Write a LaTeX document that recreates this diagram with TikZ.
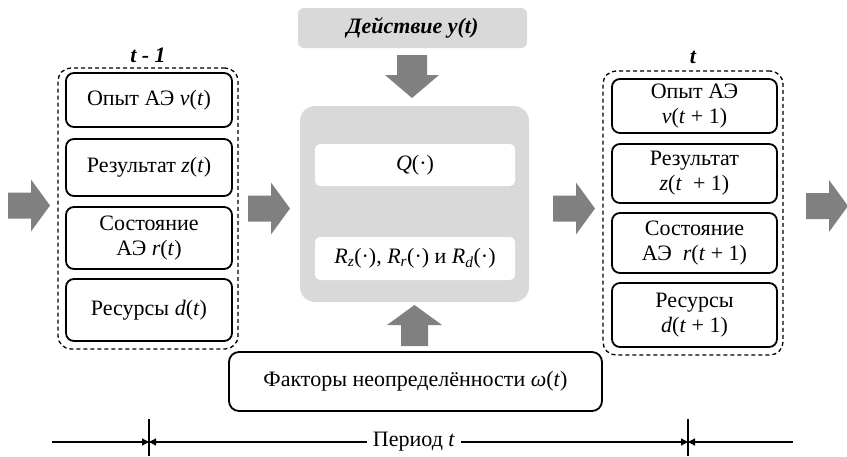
\documentclass[tikz,border=0pt]{standalone}
\usepackage{fontspec}
\setmainfont{Liberation Serif}
\usetikzlibrary{arrows.meta}
\definecolor{arrgray}{HTML}{808080}
\definecolor{panelgray}{HTML}{D9D9D9}
\begin{document}
\begin{tikzpicture}[x=1pt,y=-1pt,
  txt/.style={font=\fontsize{22}{25}\selectfont,align=center},
  box/.style={txt,draw,line width=1.8pt,rounded corners=8pt,inner sep=0pt},
  group/.style={draw,line width=1.3pt,rounded corners=13pt,dash pattern=on 4pt off 3pt,inner sep=0pt},
  dimline/.style={line width=1.3pt},
  fatR/.pic={\fill[arrgray] (0,-13) -- (23,-13) -- (23,-26) -- (42,0) -- (23,26) -- (23,13) -- (0,13) -- cycle;},
  fatD/.pic={\fill[arrgray] (-15,0) -- (-15,20) -- (-27,20) -- (0,43) -- (27,20) -- (15,20) -- (15,0) -- cycle;},
  fatU/.pic={\fill[arrgray] (-13.5,0) -- (-13.5,-21) -- (-27.5,-21) -- (0,-41) -- (27.5,-21) -- (13.5,-21) -- (13.5,0) -- cycle;}]
\useasboundingbox (0,0) rectangle (847,456);

% left group (t-1)
\node[group,minimum width=180pt,minimum height=281pt] (gL) at (148,208.5) {};
\node[txt,font=\fontsize{22}{25}\selectfont\bfseries\itshape] (labL) at (148,55) {t - 1};
\node[box,minimum width=166pt,minimum height=54pt] (b1) at (149,100) {Опыт АЭ \textit{v}(\textit{t})};
\node[box,minimum width=166pt,minimum height=57pt] (b2) at (149,167.5) {Результат \textit{z}(\textit{t})};
\node[box,minimum width=166pt,minimum height=62pt] (b3) at (149,238) {Состояние\\АЭ \textit{r}(\textit{t})};
\node[box,minimum width=166pt,minimum height=62pt] (b4) at (149,310) {Ресурсы \textit{d}(\textit{t})};

% right group (t)
\node[group,minimum width=180pt,minimum height=284pt] (gR) at (693,213) {};
\node[txt,font=\fontsize{22}{25}\selectfont\bfseries\itshape] (labR) at (693,57) {t};
\node[box,minimum width=165pt,minimum height=54pt] (c1) at (694.5,106) {Опыт АЭ\\\textit{v}(\textit{t} + 1)};
\node[box,minimum width=165pt,minimum height=59pt] (c2) at (694.5,173.5) {Результат\\\textit{z}(\textit{t}\ \ + 1)};
\node[box,minimum width=165pt,minimum height=60pt] (c3) at (694.5,243) {Состояние\\АЭ\ \ \textit{r}(\textit{t} + 1)};
\node[box,minimum width=165pt,minimum height=64pt] (c4) at (694.5,315) {Ресурсы\\\textit{d}(\textit{t} + 1)};

% middle panel
\node[fill=panelgray,rounded corners=15pt,minimum width=229pt,minimum height=196pt,inner sep=0pt] (panel) at (414.5,204) {};
\node[txt,fill=white,rounded corners=5pt,minimum width=200pt,minimum height=42pt,inner sep=0pt] (q) at (415,165) {\textit{Q}(·)};
\node[txt,fill=white,rounded corners=5pt,minimum width=200pt,minimum height=43pt,inner sep=0pt] (r) at (415,258.5) {\textit{R}\textsubscript{\textit{z}}(·),\ \textit{R}\textsubscript{\textit{r}}(·) и \textit{R}\textsubscript{\textit{d}}(·)};
\node[txt,fill=panelgray,rounded corners=6pt,minimum width=229pt,minimum height=40pt,inner sep=0pt,font=\fontsize{22}{25}\selectfont\bfseries\itshape] (act) at (412.5,28) {Действие y(t)};

% fat arrows
\pic at (8,205.5) {fatR};
\pic at (248,208.5) {fatR};
\pic at (553,208.5) {fatR};
\pic at (806,206) {fatR};
\pic at (412,55) {fatD};
\pic at (414.5,346) {fatU};

% uncertainty factors
\node[box,rounded corners=10pt,minimum width=373pt,minimum height=59pt] (fac) at (415.5,381.5) {Факторы неопределённости \textit{ω}(\textit{t})};

% period dimension line
\coordinate (l0) at (52,442);
\coordinate (t1) at (149,442);
\coordinate (t2) at (688,442);
\coordinate (r0) at (793,442);
\coordinate (t1a) at (149,419);
\coordinate (t1b) at (149,456);
\coordinate (t2a) at (688,419);
\coordinate (t2b) at (688,456);
\node[txt,fill=white,inner sep=6pt] (per) at (414,442) {Период \textit{t}};
\draw[dimline] (t1a) -- (t1b);
\draw[dimline] (t2a) -- (t2b);
\draw[dimline,-{Triangle[length=7pt,width=7pt]}] (l0) -- (t1);
\draw[dimline,-{Triangle[length=7pt,width=7pt]}] (per.west) -- (t1);
\draw[dimline,-{Triangle[length=7pt,width=7pt]}] (per.east) -- (t2);
\draw[dimline,-{Triangle[length=7pt,width=7pt]}] (r0) -- (t2);
\end{tikzpicture}
\end{document}
